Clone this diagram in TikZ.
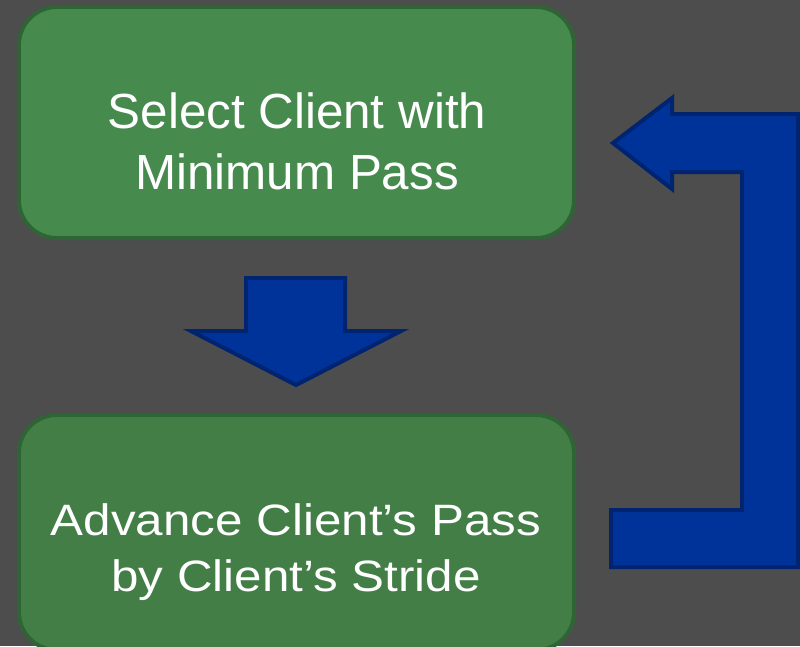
\documentclass[tikz,border=0pt]{standalone}
\usepackage{fontspec}
\setmainfont{Liberation Sans}

\definecolor{slidebg}{HTML}{4D4D4D}
\definecolor{boxfill}{HTML}{478A4E}
\definecolor{boxfilldark}{HTML}{427E46}
\definecolor{boxline}{HTML}{2F6535}
\definecolor{arrowfill}{HTML}{003399}
\definecolor{arrowline}{HTML}{00246F}

\begin{document}
\begin{tikzpicture}[x=0.025cm,y=-0.025cm,
	box/.style={draw=boxline, fill=boxfill, line width=1mm, rounded corners=0.95cm,
		minimum width=13.875cm, minimum height=5.775cm, inner sep=0pt},
	boxtext/.style={text=white, inner sep=0pt, font=\fontsize{35.1}{42.7}\selectfont},
	blockarrow/.style={draw=arrowline, fill=arrowfill, line width=1mm}]
	\fill[slidebg] (0,0) rectangle (800,646);
	\useasboundingbox (0,0) rectangle (800,646);

	% the two steps
	\node[box] (select) at (296.5,122.5) {};
	\node[box, fill=boxfilldark, minimum height=5.875cm] (advance) at (296.5,532.5) {};
	\node[boxtext] (select text) at (297,147)
		{\begin{tabular}{@{}c@{}}Select Client with\\Minimum Pass\end{tabular}};
	\node[boxtext, font=\fontsize{35.1}{44}\selectfont] (advance text) at (296,552.5)
		{\scalebox{1}[0.89]{\begin{tabular}{@{}c@{}}Advance Client’s Pass\\by Client’s Stride\end{tabular}}};

	% select -> advance
	\draw[blockarrow] (246,278) -- (345,278) -- (345,331) -- (401,331)
		-- (296,385) -- (191,331) -- (246,331) -- cycle;

	% advance -> back to select
	\draw[blockarrow] (613,143) -- (672,98) -- (672,114) -- (798,114)
		-- (798,567) -- (611,567) -- (611,510) -- (742,510)
		-- (742,172) -- (672,172) -- (672,189) -- cycle;
\end{tikzpicture}
\end{document}
